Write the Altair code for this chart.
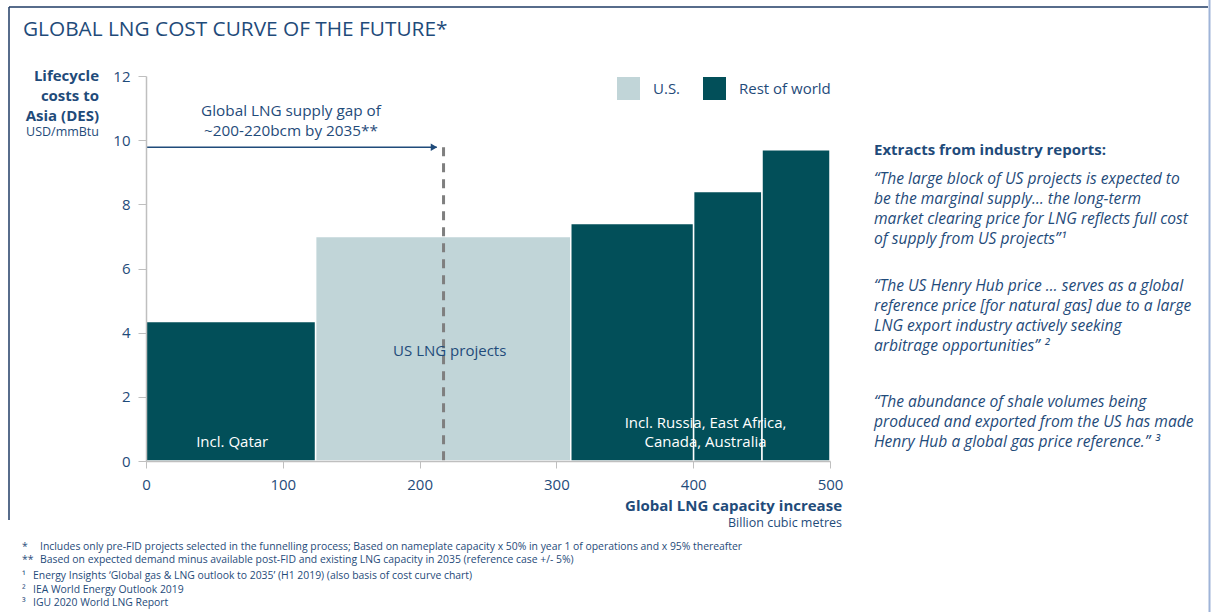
import altair as alt
import pandas as pd

# ---------------- data ----------------
bar_start = [0, 124, 310.5, 400.3, 450.3]
bar_end = [124, 310.5, 400.3, 450.3, 500]
bar_cost = [4.35, 7.0, 7.4, 8.4, 9.7]
bar_region = ["Rest of world", "U.S.", "Rest of world", "Rest of world", "Rest of world"]

x_ticks = [0, 100, 200, 300, 400, 500]
y_ticks = [0, 2, 4, 6, 8, 10, 12]

gap_x = 217.5          # supply gap marker (bcm)
gap_y = 9.78           # arrow level (USD/mmBtu)

inbar_text = ["Incl. Qatar", "US LNG projects", "Incl. Russia, East Africa,", "Canada, Australia"]
inbar_x = [63, 222, 409, 409]
inbar_y = [0.59, 3.42, 1.18, 0.59]
inbar_color = ["white", "#1f4b7a", "white", "white"]

gap_lines = ["Global LNG supply gap of", "~200-220bcm by 2035**"]
gap_lines_x = [106, 106]
gap_lines_y = [10.92, 10.3]

title_text = "GLOBAL LNG COST CURVE OF THE FUTURE*"
ytitle_lines = ["Lifecycle", "costs to", "Asia (DES)"]
ytitle_unit = "USD/mmBtu"
xtitle = "Global LNG capacity increase"
xtitle_unit = "Billion cubic metres"

panel_head = "Extracts from industry reports:"
quote1 = ["\u201cThe large block of US projects is expected to",
          "be the marginal supply\u2026 the long-term",
          "market clearing price for LNG reflects full cost",
          "of supply from US projects\u201d\u00b9"]
quote2 = ["\u201cThe US Henry Hub price \u2026 serves as a global",
          "reference price [for natural gas] due to a large",
          "LNG export industry actively seeking",
          "arbitrage opportunities\u201d \u00b2"]
quote3 = ["\u201cThe abundance of shale volumes being",
          "produced and exported from the US has made",
          "Henry Hub a global gas price reference.\u201d \u00b3"]

foot_marks = ["*", "**", "\u00b9", "\u00b2", "\u00b3"]
foot_texts = ["Includes only pre-FID projects selected in the funnelling process; Based on nameplate capacity x 50% in year 1 of operations and x 95% thereafter",
              "Based on expected demand minus available post-FID and existing LNG capacity in 2035 (reference case +/- 5%)",
              "Energy Insights \u2018Global gas & LNG outlook to 2035\u2019 (H1 2019) (also basis of cost curve chart)",
              "IEA World Energy Outlook 2019",
              "IGU 2020 World LNG Report"]

# ---------------- style ----------------
FONT = "Open Sans"
BLUE = "#1f4b7a"
DARK = "#024f59"
LIGHT = "#c1d5d8"
AXIS_GREY = "#bfbfbf"

W, H = 684, 385
PL, PT = 146, 76

bars = pd.DataFrame({"start": bar_start, "end": bar_end, "cost": bar_cost, "region": bar_region})

xscale = alt.Scale(domain=[0, 500], nice=False, zero=False)
yscale = alt.Scale(domain=[0, 12], nice=False)

rects = alt.Chart(bars).mark_rect(stroke="white", strokeWidth=1.5).encode(
    x=alt.X("start:Q", scale=xscale,
            axis=alt.Axis(values=x_ticks, title=None, grid=False, domainColor=AXIS_GREY, tickColor=AXIS_GREY,
                          tickSize=7, labelPadding=9, labelFontSize=15, labelColor=BLUE, labelFont=FONT,
                          domainWidth=1.5, zindex=1, labelFlush=False)),
    x2="end:Q",
    y=alt.Y("cost:Q", scale=yscale,
            axis=alt.Axis(values=y_ticks, title=None, grid=False, domainColor=AXIS_GREY, tickColor=AXIS_GREY,
                          tickSize=8, labelPadding=8, labelFontSize=15, labelColor=BLUE, labelFont=FONT,
                          domainWidth=1.5, zindex=1, labelFlush=False)),
    y2=alt.datum(0),
    color=alt.Color("region:N",
                    scale=alt.Scale(domain=["U.S.", "Rest of world"], range=[LIGHT, DARK]),
                    legend=alt.Legend(orient="none", legendX=471, legendY=1, direction="horizontal", title=None,
                                      symbolType="square", symbolSize=529, symbolStrokeWidth=0, symbolOpacity=1,
                                      labelFontSize=15, labelColor=BLUE, labelFont=FONT, labelOffset=13,
                                      columnPadding=22, padding=0)),
)

gap_rule = alt.Chart(pd.DataFrame({"x": [gap_x], "y": [gap_y]})).mark_rule(
    color="#7f7f7f", strokeWidth=3, strokeDash=[9, 7]).encode(
    x=alt.X("x:Q", scale=xscale), y=alt.Y("y:Q", scale=yscale), y2=alt.datum(0))

arrow_line = alt.Chart(pd.DataFrame({"x": [0], "x2": [gap_x - 5], "y": [gap_y]})).mark_rule(
    color=BLUE, strokeWidth=1.5).encode(
    x=alt.X("x:Q", scale=xscale), x2="x2:Q", y=alt.Y("y:Q", scale=yscale))

arrow_head = alt.Chart(pd.DataFrame({"x": [gap_x - 7], "y": [gap_y]})).mark_point(
    shape="triangle-right", filled=True, size=55, color=BLUE, opacity=1).encode(
    x=alt.X("x:Q", scale=xscale), y=alt.Y("y:Q", scale=yscale))

inbar = alt.Chart(pd.DataFrame({"t": inbar_text, "x": inbar_x, "y": inbar_y, "c": inbar_color})).mark_text(
    font=FONT, fontSize=15, align="center", baseline="middle").encode(
    x=alt.X("x:Q", scale=xscale), y=alt.Y("y:Q", scale=yscale), text="t:N", color=alt.Color("c:N", scale=None))

gap_text = alt.Chart(pd.DataFrame({"t": gap_lines, "x": gap_lines_x, "y": gap_lines_y})).mark_text(
    font=FONT, fontSize=15.3, align="center", baseline="middle", color=BLUE).encode(
    x=alt.X("x:Q", scale=xscale), y=alt.Y("y:Q", scale=yscale), text="t:N")

layers = [rects, gap_rule, arrow_line, arrow_head, inbar, gap_text]


def ptext(txt, px, py, size=15, weight="normal", style="normal", align="left", color=BLUE):
    return alt.Chart(alt.Data(values=[{}])).mark_text(
        font=FONT, fontSize=size, fontWeight=weight, fontStyle=style, align=align, baseline="middle",
        color=color).encode(x=alt.value(px - PL), y=alt.value(py - PT), text=alt.value(txt))


def prule(x1, y1, x2, y2, color, width):
    return alt.Chart(alt.Data(values=[{}])).mark_rule(color=color, strokeWidth=width).encode(
        x=alt.value(x1 - PL), x2=alt.value(x2 - PL), y=alt.value(y1 - PT), y2=alt.value(y2 - PT))


# frame
layers.append(prule(9, 7, 1208, 7, "#1f3b64", 1.5))
layers.append(prule(9, 7, 9, 520, "#1f3b64", 1.5))
layers.append(prule(1209.5, 0, 1209.5, 612, "#9fb4d8", 2))

# title
layers.append(ptext(title_text, 23, 30, size=20.8))

# y title
for t, yy in zip(ytitle_lines, [75.5, 95.5, 115.5]):
    layers.append(ptext(t, 99, yy, size=15, weight="bold", align="right"))
layers.append(ptext(ytitle_unit, 99, 132, size=12.5, align="right"))

# x title
layers.append(ptext(xtitle, 842, 506, size=15, weight="bold", align="right"))
layers.append(ptext(xtitle_unit, 842, 523, size=12.5, align="right"))

# right panel
layers.append(ptext(panel_head, 874, 150, size=15, weight="bold"))
for lines, ys in [(quote1, [178.5, 198.5, 218.5, 238.5]),
                  (quote2, [286, 306, 326, 346]),
                  (quote3, [401.5, 422, 442])]:
    for t, yy in zip(lines, ys):
        layers.append(ptext(t, 874, yy, size=15.6, style="italic"))

# footnotes
for m, t, yy in zip(foot_marks, foot_texts, [547, 560, 576, 590, 603]):
    if m.startswith("*"):
        layers.append(ptext(m, 22, yy, size=10.4))
        layers.append(ptext(t, 40, yy, size=10.4))
    else:
        layers.append(ptext(m, 22, yy, size=10.4))
        layers.append(ptext(t, 33, yy, size=10.4))

chart = alt.layer(*layers).properties(
    width=W, height=H,
    padding={"left": PL, "top": PT, "right": 1211 - PL - W, "bottom": 612 - PT - H},
    autosize=alt.AutoSizeParams(type="none"),
    background="white",
).configure_view(stroke=None)

chart.save("out.html", embed_options={"renderer": "svg", "actions": False})
